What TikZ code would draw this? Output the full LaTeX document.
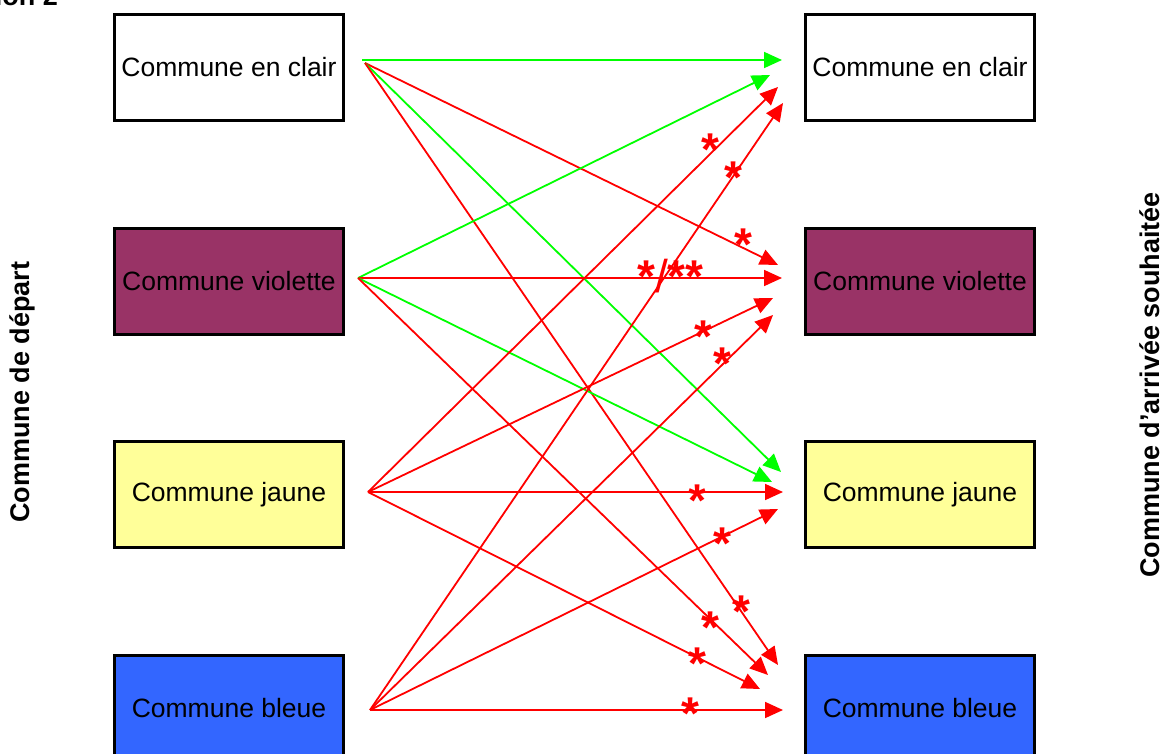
\documentclass[tikz,border=0pt]{standalone}
\usepackage{fontspec}
\setmainfont{Liberation Sans}
\usepackage{xcolor}
\usetikzlibrary{arrows.meta}
\definecolor{violette}{HTML}{993366}
\definecolor{jaune}{HTML}{FFFF99}
\definecolor{bleue}{HTML}{3366FF}
\definecolor{vert}{HTML}{00FF00}
\definecolor{rouge}{HTML}{FF0000}

\begin{document}
\begin{tikzpicture}[x=1pt, y=-1pt,%Specs
     commune/.style={draw, line width=3pt, minimum width=229pt, minimum height=106pt,
        inner sep=0pt, font=\fontsize{26.5}{30}\selectfont},
     titre/.style={rotate=90, font=\bfseries\fontsize{27}{30}\selectfont},
     fleche/.style={line width=1.8pt, -{Triangle[length=18pt,width=16pt]}},
     permis/.style={fleche, color=vert},
     interdit/.style={fleche, color=rouge},
     renvoi/.style={text=rouge, anchor=base, inner sep=0pt, font=\bfseries\fontsize{46}{50}\selectfont}]
    \useasboundingbox (0,0) rectangle (1164,754);
    %labels
    \node[anchor=base east, inner sep=0pt, font=\bfseries\fontsize{27}{30}\selectfont] (illus) at (58,6) {ion 2};
    \node[titre] (depart) at (22,392) {Commune de départ};
    \node[titre] (arrivee) at (1150,385) {Commune d'arrivée souhaitée};
    % communes de depart
    \node[commune] (dClair) at (229,67.5) {Commune en clair};
    \node[commune, fill=violette] (dViolette) at (229,281) {Commune violette};
    \node[commune, fill=jaune] (dJaune) at (229,494.5) {Commune jaune};
    \node[commune, fill=bleue] (dBleue) at (229,708) {Commune bleue};
    % communes d'arrivee
    \node[commune] (aClair) at (920,67.5) {Commune en clair};
    \node[commune, fill=violette] (aViolette) at (920,281) {Commune violette};
    \node[commune, fill=jaune] (aJaune) at (920,494.5) {Commune jaune};
    \node[commune, fill=bleue] (aBleue) at (920,708) {Commune bleue};
    % points de depart
    \coordinate (sClairH) at (362,60);
    \coordinate (sClair) at (365,63);
    \coordinate (sViolette) at (358,278);
    \coordinate (sJaune) at (368,492);
    \coordinate (sBleue) at (370,710);
    % pointes
    \coordinate (tClair1) at (782,60);
    \coordinate (tClair2) at (770,75);
    \coordinate (tClair3) at (778,87);
    \coordinate (tClair4) at (783,103);
    \coordinate (tViolette1) at (778,265);
    \coordinate (tViolette2) at (782,278);
    \coordinate (tViolette3) at (773,298);
    \coordinate (tViolette4) at (773,315);
    \coordinate (tJaune1) at (781,472);
    \coordinate (tJaune2) at (772,482);
    \coordinate (tJaune3) at (783,492);
    \coordinate (tJaune4) at (778,509);
    \coordinate (tBleue1) at (778,665);
    \coordinate (tBleue2) at (768,675);
    \coordinate (tBleue3) at (760,689);
    \coordinate (tBleue4) at (783,710);
    % depuis la commune en clair
    \draw[permis] (sClairH) -- (tClair1);
    \draw[interdit] (sClair) -- (tViolette1);
    \draw[permis] (sClair) -- (tJaune1);
    \draw[interdit] (sClair) -- (tBleue1);
    % depuis la commune violette
    \draw[permis] (sViolette) -- (tClair2);
    \draw[interdit] (sViolette) -- (tViolette2);
    \draw[permis] (sViolette) -- (tJaune2);
    \draw[interdit] (sViolette) -- (tBleue2);
    % depuis la commune jaune
    \draw[interdit] (sJaune) -- (tClair3);
    \draw[interdit] (sJaune) -- (tViolette3);
    \draw[interdit] (sJaune) -- (tJaune3);
    \draw[interdit] (sJaune) -- (tBleue3);
    % depuis la commune bleue
    \draw[interdit] (sBleue) -- (tClair4);
    \draw[interdit] (sBleue) -- (tViolette4);
    \draw[interdit] (sBleue) -- (tJaune4);
    \draw[interdit] (sBleue) -- (tBleue4);
    % renvois
    \node[renvoi] (r1) at (710,166) {*};
    \node[renvoi] (r2) at (733,194) {*};
    \node[renvoi] (r3) at (743,260) {*};
    \node[renvoi, anchor=base west] (r4) at (637,292) {*{\mdseries/}**};
    \node[renvoi] (r5) at (703,352) {*};
    \node[renvoi] (r6) at (722,379) {*};
    \node[renvoi] (r7) at (697,516) {*};
    \node[renvoi] (r8) at (722,559) {*};
    \node[renvoi] (r9) at (741,627) {*};
    \node[renvoi] (r10) at (710,643) {*};
    \node[renvoi] (r11) at (697,679) {*};
    \node[renvoi] (r12) at (690,729) {*};
\end{tikzpicture}
\end{document}
